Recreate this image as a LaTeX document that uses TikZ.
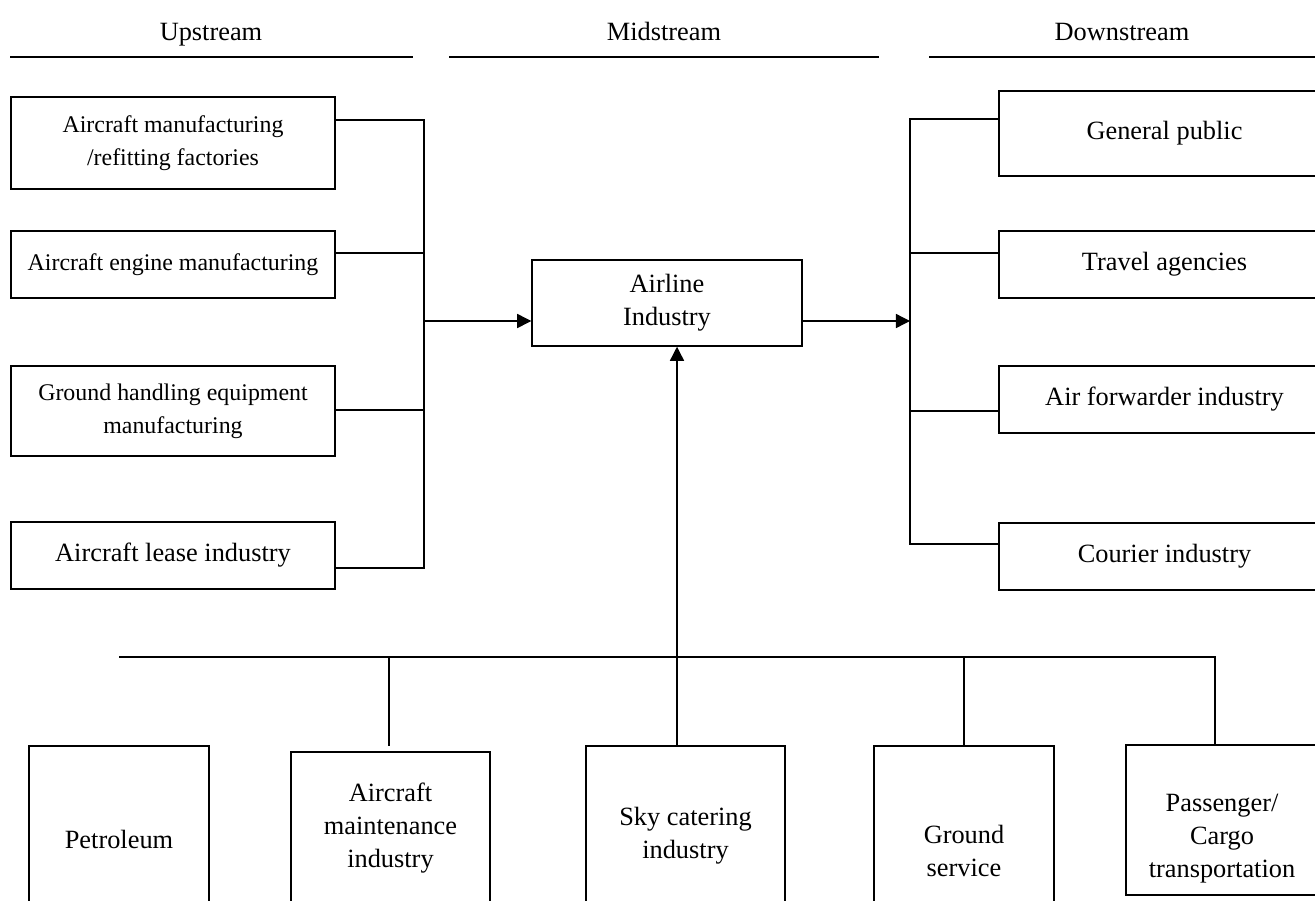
\documentclass[tikz,border=0pt]{standalone}
\usepackage{fontspec}
\setmainfont{Liberation Serif}
\usetikzlibrary{arrows.meta}
\tikzset{
    box/.style={draw, line width=0.85pt, align=center, inner sep=2pt, font=\fontsize{15}{18.8}\selectfont},
    smalltext/.style={font=\fontsize{13.6}{18.8}\selectfont},
    head/.style={anchor=base, font=\fontsize{15}{18}\selectfont},
    wire/.style={line width=0.75pt},
    stub/.style={line width=1.1pt},
    rule/.style={line width=1.4pt},
    arr/.style={wire, -{Triangle[length=8pt,width=8pt]}},
}
\begin{document}
\begin{tikzpicture}[x=0.02cm, y=-0.02cm]
    \useasboundingbox (0,0) rectangle (1315,900);
    \clip (0,0) rectangle (1315,900);

    \node[head] (hup) at (211,40) {Upstream};
    \node[head] (hmid) at (664,40) {Midstream};
    \node[head] (hdown) at (1122,40) {Downstream};
    \draw[rule] (10,57) -- (413,57);
    \draw[rule] (449,57) -- (879,57);
    \draw[rule] (929,57) -- (1330,57);

    \node[box, smalltext, minimum width=6.48cm, minimum height=1.84cm] (u1) at (173,143) {Aircraft manufacturing\\/refitting factories};
    \node[box, smalltext, minimum width=6.48cm, minimum height=1.34cm] (u2) at (173,264.5) {Aircraft engine manufacturing};
    \node[box, smalltext, minimum width=6.48cm, minimum height=1.8cm] (u3) at (173,411) {Ground handling equipment\\manufacturing};
    \node[box, minimum width=6.48cm, minimum height=1.34cm] (u4) at (173,555.5) {Aircraft lease industry};

    \node[box, minimum width=5.4cm, minimum height=1.72cm] (air) at (667,303) {Airline\\Industry};

    \node[box, minimum width=6.62cm, minimum height=1.7cm] (d1) at (1164.5,133.5) {General public};
    \node[box, minimum width=6.62cm, minimum height=1.34cm] (d2) at (1164.5,264.5) {Travel agencies};
    \node[box, minimum width=6.62cm, minimum height=1.34cm] (d3) at (1164.5,399.5) {Air forwarder industry};
    \node[box, minimum width=6.62cm, minimum height=1.34cm] (d4) at (1164.5,556.5) {Courier industry};

    \node[box, minimum width=3.6cm, minimum height=3.72cm] (b1) at (119,839) {Petroleum};
    \node[box, minimum width=3.98cm, minimum height=3.04cm] (b2) at (390.5,828) {Aircraft\\maintenance\\industry};
    \node[box, minimum width=3.98cm, minimum height=3.6cm] (b3) at (685.5,836) {Sky catering\\industry};
    \node[box, minimum width=3.6cm, minimum height=4.2cm] (b4) at (964,851) {Ground\\service};
    \node[box, minimum width=3.84cm, minimum height=3cm] (b5) at (1222,820) {\rule{0pt}{31pt}Passenger/\\Cargo\\transportation};

    \coordinate (lj1) at (424,120);
    \coordinate (lj2) at (424,253);
    \coordinate (lj3) at (424,410);
    \coordinate (lj4) at (424,568);
    \coordinate (lmid) at (424,321);
    \draw[wire] (lj1 -| u1.east) -- (lj1) -- (lj4) -- (lj4 -| u4.east);
    \draw[stub] (lj2 -| u2.east) -- (lj2);
    \draw[stub] (lj3 -| u3.east) -- (lj3);
    \draw[arr] (lmid) -- (lmid -| air.west);

    \coordinate (rj1) at (910,119);
    \coordinate (rj2) at (910,253);
    \coordinate (rj3) at (910,411);
    \coordinate (rj4) at (910,544);
    \coordinate (rmid) at (910,321);
    \draw[wire] (rj1 -| d1.west) -- (rj1) -- (rj4) -- (rj4 -| d4.west);
    \draw[stub] (rj2) -- (rj2 -| d2.west);
    \draw[stub] (rj3) -- (rj3 -| d3.west);
    \draw[arr] (rmid -| air.east) -- (rmid);

    \coordinate (bj1) at (119,657);
    \coordinate (bj2) at (389,657);
    \coordinate (bj3) at (677,657);
    \coordinate (bj4) at (964,657);
    \coordinate (bj5) at (1215,657);
    \draw[wire] (b1.north |- bj1) -- (bj1) -- (bj5) -- (bj5 |- b5.north);
    \draw[wire] (bj2) -- (389,746);
    \draw[wire] (bj4) -- (bj4 |- b4.north);
    \draw[arr] (bj3 |- b3.north) -- (bj3 |- air.south);
\end{tikzpicture}
\end{document}
